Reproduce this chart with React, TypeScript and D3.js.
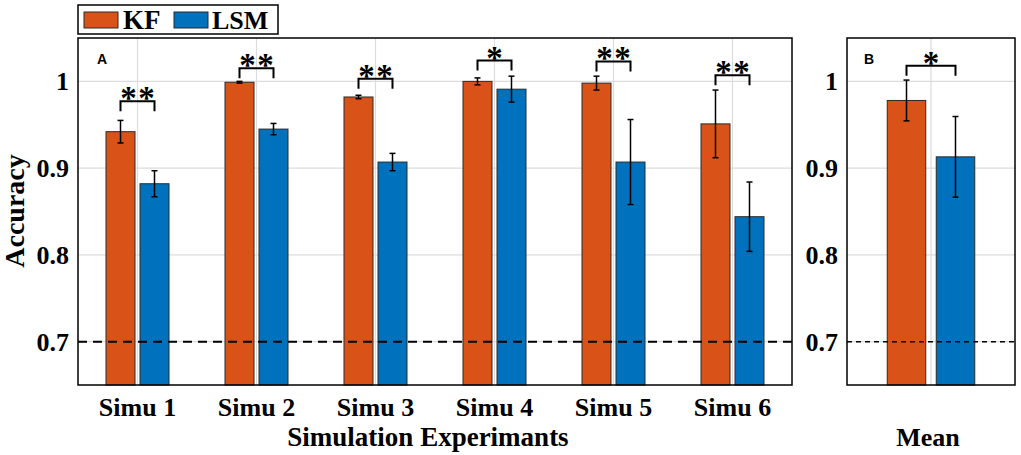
import React from "react";
import * as d3 from "d3";

const categories = ["Simu 1", "Simu 2", "Simu 3", "Simu 4", "Simu 5", "Simu 6"];
const kfMean = [0.942, 0.999, 0.982, 1.0, 0.998, 0.951];
const kfErr = [0.013, 0.001, 0.002, 0.004, 0.008, 0.039];
const lsmMean = [0.882, 0.945, 0.907, 0.991, 0.907, 0.844];
const lsmErr = [0.015, 0.0065, 0.01, 0.015, 0.049, 0.04];
const sigMarks = ["**", "**", "**", "*", "**", "**"];
const sigLevel = [0.977, 1.015, 1.003, 1.024, 1.023, 1.007];

const meanKf = 0.978;
const meanKfErr = 0.0235;
const meanLsm = 0.913;
const meanLsmErr = 0.0465;
const meanSig = "*";
const meanSigLevel = 1.018;

const yTicks = [0.7, 0.8, 0.9, 1];
const threshold = 0.7;

const KF_COLOR = "#D95319";
const LSM_COLOR = "#0072BD";
const GRID = "#dcdcdc";
const SERIF = "'Liberation Serif', 'Times New Roman', serif";
const SANS = "'Liberation Sans', Arial, sans-serif";

const top = 38;
const bottom = 385;
const y = d3.scaleLinear().domain([0.65, 1.05]).range([bottom, top]);

const aLeft = 78;
const aRight = 792;
const xA = d3.scaleLinear().domain([0.5, categories.length + 0.5]).range([aLeft, aRight]);

const bLeft = 847;
const bRight = 1015;
const xB = d3.scaleLinear().domain([0.5, 1.5]).range([bLeft, bRight]);

function Bar({ cx, w, v, color }: { cx: number; w: number; v: number; color: string }) {
  return (
    <rect x={cx - w / 2} y={y(v)} width={w} height={y(0.65) - y(v)} fill={color} stroke="#2a2a2a" strokeWidth={1} />
  );
}

function ErrBar({ cx, v, e }: { cx: number; v: number; e: number }) {
  const y1 = y(v + e);
  const y2 = y(v - e);
  return (
    <g stroke="#000" strokeWidth={1.5}>
      <line x1={cx} x2={cx} y1={y1} y2={y2} />
      <line x1={cx - 3} x2={cx + 3} y1={y1} y2={y1} />
      <line x1={cx - 3} x2={cx + 3} y1={y2} y2={y2} />
    </g>
  );
}

function Sig({ x1, x2, level, mark }: { x1: number; x2: number; level: number; mark: string }) {
  const yt = y(level);
  const cx = (x1 + x2) / 2;
  const stars = mark.length === 2 ? [cx - 9, cx + 9] : [cx];
  return (
    <g>
      <path d={`M${x1},${yt + 10}V${yt}H${x2}V${yt + 10}`} fill="none" stroke="#000" strokeWidth={2} />
      {stars.map((sx, i) => (
        <text key={i} x={sx} y={yt + 8} textAnchor="middle" fontFamily={SERIF} fontWeight="bold" fontSize={33}>
          *
        </text>
      ))}
    </g>
  );
}

export default function App() {
  const wA = 29;
  const offA = 17;
  const wB = 38.5;
  const offB = 24.5;
  return (
    <svg width={1021} height={455} style={{ position: "absolute", left: 0, top: 0, background: "#fff" }}>
      {/* Legend */}
      <rect x={78} y={5} width={200} height={29} fill="#fff" stroke="#000" strokeWidth={1.5} />
      <rect x={84} y={12} width={34} height={16} fill={KF_COLOR} stroke="#2a2a2a" strokeWidth={1} />
      <text x={123} y={29} fontFamily={SERIF} fontWeight="bold" fontSize={27}>KF</text>
      <rect x={174} y={12} width={34} height={16} fill={LSM_COLOR} stroke="#2a2a2a" strokeWidth={1} />
      <text x={212} y={29} fontFamily={SERIF} fontWeight="bold" fontSize={26}>LSM</text>

      {/* Panel A grid */}
      <g stroke={GRID} strokeWidth={1.2}>
        {yTicks.map((t) => (
          <line key={t} x1={aLeft} x2={aRight} y1={y(t)} y2={y(t)} />
        ))}
        {categories.map((c, i) => (
          <line key={c} x1={xA(i + 1)} x2={xA(i + 1)} y1={top} y2={bottom} />
        ))}
      </g>
      {/* Panel B grid */}
      <g stroke={GRID} strokeWidth={1.2}>
        {yTicks.map((t) => (
          <line key={t} x1={bLeft} x2={bRight} y1={y(t)} y2={y(t)} />
        ))}
        <line x1={xB(1)} x2={xB(1)} y1={top} y2={bottom} />
      </g>

      {/* Panel A bars */}
      {categories.map((c, i) => {
        const cx = xA(i + 1);
        return (
          <g key={c}>
            <Bar cx={cx - offA} w={wA} v={kfMean[i]} color={KF_COLOR} />
            <Bar cx={cx + offA} w={wA} v={lsmMean[i]} color={LSM_COLOR} />
          </g>
        );
      })}
      <line x1={aLeft} x2={aRight} y1={y(threshold)} y2={y(threshold)} stroke="#000" strokeWidth={2} strokeDasharray="9,6" />
      {categories.map((c, i) => {
        const cx = xA(i + 1);
        return (
          <g key={c}>
            <ErrBar cx={cx - offA} v={kfMean[i]} e={kfErr[i]} />
            <ErrBar cx={cx + offA} v={lsmMean[i]} e={lsmErr[i]} />
            <Sig x1={cx - offA} x2={cx + offA} level={sigLevel[i]} mark={sigMarks[i]} />
          </g>
        );
      })}

      {/* Panel B bars */}
      <Bar cx={xB(1) - offB} w={wB} v={meanKf} color={KF_COLOR} />
      <Bar cx={xB(1) + offB} w={wB} v={meanLsm} color={LSM_COLOR} />
      <line x1={bLeft} x2={bRight} y1={y(threshold)} y2={y(threshold)} stroke="#000" strokeWidth={1.5} strokeDasharray="5,4" />
      <ErrBar cx={xB(1) - offB} v={meanKf} e={meanKfErr} />
      <ErrBar cx={xB(1) + offB} v={meanLsm} e={meanLsmErr} />
      <Sig x1={xB(1) - offB} x2={xB(1) + offB} level={meanSigLevel} mark={meanSig} />

      {/* Axes boxes */}
      <rect x={aLeft} y={top} width={aRight - aLeft} height={bottom - top} fill="none" stroke="#000" strokeWidth={1.5} />
      <rect x={bLeft} y={top} width={bRight - bLeft} height={bottom - top} fill="none" stroke="#000" strokeWidth={1.5} />

      {/* Tick labels */}
      {yTicks.map((t) => (
        <g key={t} fontFamily={SERIF} fontWeight="bold" fontSize={26} textAnchor="end">
          <text x={aLeft - 9} y={y(t) + 9}>{t === 1 ? "1" : t.toFixed(1)}</text>
          <text x={bLeft - 9} y={y(t) + 9}>{t === 1 ? "1" : t.toFixed(1)}</text>
        </g>
      ))}
      {categories.map((c, i) => (
        <text key={c} x={xA(i + 1)} y={416} textAnchor="middle" fontFamily={SERIF} fontWeight="bold" fontSize={26}>
          {c}
        </text>
      ))}

      {/* Axis titles */}
      <text x={428} y={446} textAnchor="middle" fontFamily={SERIF} fontWeight="bold" fontSize={27}>
        Simulation Experimants
      </text>
      <text x={928} y={446} textAnchor="middle" fontFamily={SERIF} fontWeight="bold" fontSize={26}>
        Mean
      </text>
      <text transform={`translate(24,211) rotate(-90)`} textAnchor="middle" fontFamily={SERIF} fontWeight="bold" fontSize={28}>
        Accuracy
      </text>

      {/* Panel letters */}
      <text x={102} y={64} textAnchor="middle" fontFamily={SANS} fontWeight="bold" fontSize={14}>A</text>
      <text x={869} y={64} textAnchor="middle" fontFamily={SANS} fontWeight="bold" fontSize={14}>B</text>
    </svg>
  );
}
